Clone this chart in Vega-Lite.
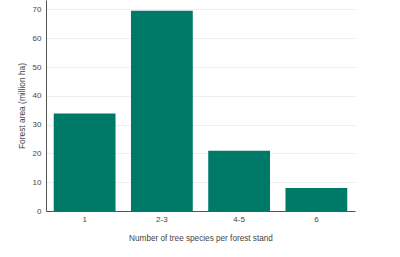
{
  "$schema": "https://vega.github.io/schema/vega-lite/v6.json",
  "width": 309,
  "height": 211,
  "autosize": {"type": "none"},
  "padding": {"left": 46, "top": 0, "right": 45, "bottom": 46},
  "background": "white",
  "config": {"view": {"stroke": null}, "font": "Liberation Sans"},
  "data": {"values": [
    {"species": "1", "area": 33.9},
    {"species": "2-3", "area": 69.6},
    {"species": "4-5", "area": 20.9},
    {"species": "6", "area": 8.0}
  ]},
  "mark": {"type": "bar", "color": "#007a68"},
  "encoding": {
    "x": {"field": "species", "type": "nominal", "sort": null,
      "scale": {"paddingInner": 0.2, "paddingOuter": 0.1},
      "axis": {"title": "Number of tree species per forest stand", "labelAngle": 0,
        "labelFontSize": 8, "labelColor": "#444", "titleFontSize": 8.2, "titleFontWeight": "normal",
        "titleColor": "#444", "titlePadding": 11, "domainColor": "#555", "ticks": false, "labelPadding": 4}},
    "y": {"field": "area", "type": "quantitative",
      "scale": {"domain": [0, 73.3], "nice": false},
      "axis": {"title": "Forest area (million ha)", "values": [0, 10, 20, 30, 40, 50, 60, 70],
        "labelFontSize": 8, "labelColor": "#444", "titleFontSize": 8.4, "titleFontWeight": "normal",
        "titleColor": "#444", "titlePadding": 6, "domainColor": "#555", "ticks": false,
        "gridColor": "#eeeeee", "labelPadding": 5}}
  }
}
